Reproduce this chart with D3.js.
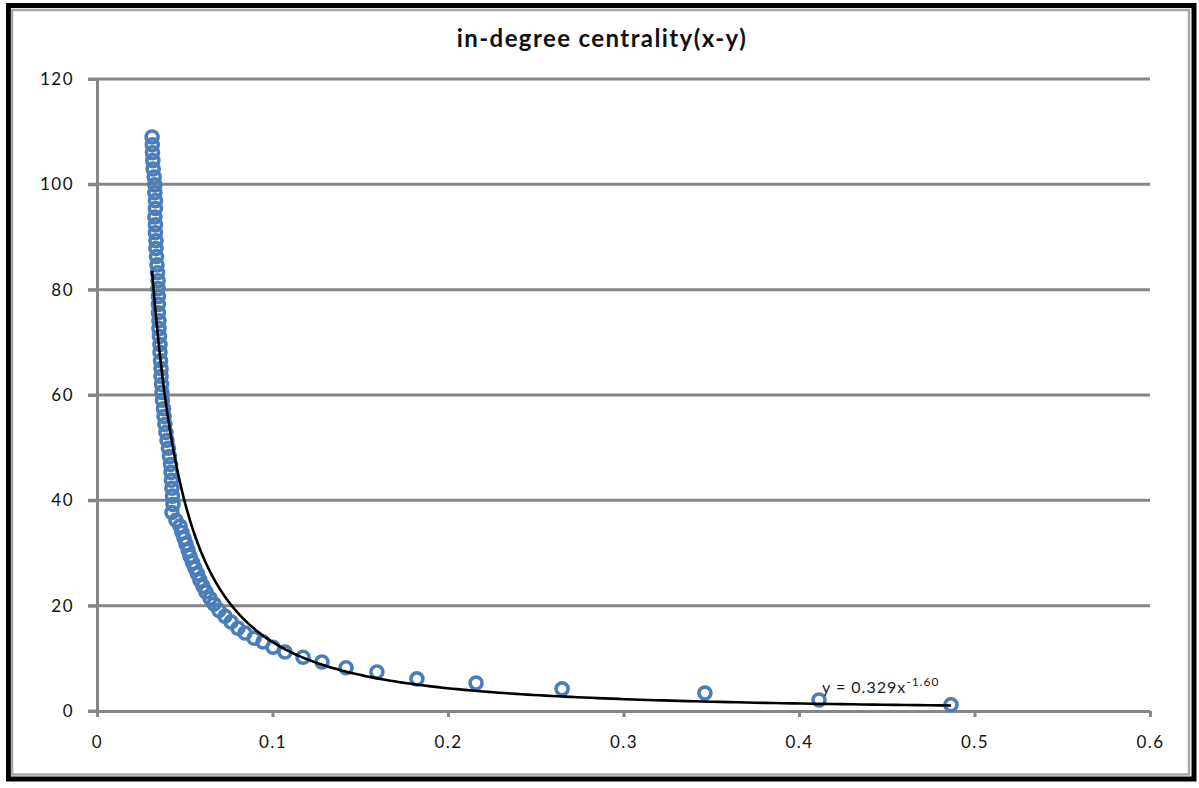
<!DOCTYPE html>
<html lang="en">
    <head>
        <meta charset="utf-8">
        <title>in-degree centrality</title>
        <script src="https://d3js.org/d3.v7.min.js"></script>
        <style type="text/css">
            body { margin: 0; background: #ffffff; }

            .axis path,
            .axis line {
                stroke: #868686;
                stroke-width: 3px;
            }

            .axis text {
                font-family: Lato, "Open Sans", sans-serif;
                font-size: 17px;
                letter-spacing: 1.5px;
                fill: #111111;
            }

            .grid line {
                stroke: #868686;
                stroke-width: 3px;
            }

            .trend {
                fill: none;
                stroke: #000000;
                stroke-width: 2.6px;
            }

            .dot {
                fill: none;
                stroke: #4a7ebb;
                stroke-width: 3.6px;
            }
        </style>
    </head>
    <body>
        <script type="text/javascript">

            // data
            const xValues = [
                0.0314, 0.0315, 0.0316, 0.0318, 0.0320, 0.0326, 0.0330, 0.0330, 0.0333, 0.0333,
                0.0330, 0.0333, 0.0333, 0.0336, 0.0336, 0.0339, 0.0342, 0.0345, 0.0348, 0.0348,
                0.0350, 0.0350, 0.0350, 0.0353, 0.0353, 0.0356, 0.0359, 0.0359, 0.0362, 0.0365,
                0.0365, 0.0368, 0.0370, 0.0373, 0.0379, 0.0382, 0.0387, 0.0393, 0.0399, 0.0407,
                0.0413, 0.0419, 0.0422, 0.0424, 0.0427, 0.0430, 0.0433, 0.0427, 0.0450, 0.0473,
                0.0484, 0.0496, 0.0507, 0.0519, 0.0530, 0.0544, 0.0558, 0.0573, 0.0587, 0.0604,
                0.0621, 0.0644, 0.0667, 0.0695, 0.0729, 0.0764, 0.0803, 0.0843, 0.0895, 0.0946,
                0.1003, 0.1071, 0.1174, 0.1282, 0.1419, 0.1595, 0.1823, 0.2160, 0.2650, 0.3464,
                0.4114, 0.4866
            ];
            const yValues = [
                109.0, 107.5, 106.0, 104.5, 102.9, 101.4, 99.9, 98.4, 96.9, 95.4,
                93.8, 92.3, 90.8, 89.3, 87.8, 86.3, 84.7, 83.2, 81.7, 80.2,
                78.7, 77.2, 75.6, 74.1, 72.6, 71.1, 69.6, 68.1, 66.5, 65.0,
                63.5, 62.0, 60.5, 59.0, 57.4, 55.9, 54.4, 52.9, 51.4, 49.9,
                48.3, 46.8, 45.3, 43.8, 42.3, 40.8, 39.2, 37.7, 36.2, 35.1,
                33.9, 32.8, 31.7, 30.5, 29.4, 28.2, 27.1, 26.0, 24.8, 23.7,
                22.6, 21.4, 20.3, 19.1, 18.0, 16.9, 15.7, 14.8, 13.8, 13.1,
                12.1, 11.2, 10.2, 9.3, 8.2, 7.4, 6.1, 5.3, 4.2, 3.4,
                2.1, 1.2
            ];

            // power trendline shown on the chart: y = 0.329x^-1.60
            const trendA = 0.329;
            const trendB = -1.60;

            const xTicks = [0, 0.1, 0.2, 0.3, 0.4, 0.5, 0.6];
            const yTicks = [0, 20, 40, 60, 80, 100, 120];

            const title = "in-degree centrality(x-y)";

            //Consts
            const w = 1199;
            const h = 788;
            const plotLeft = 97, plotRight = 1150, plotTop = 79, plotBottom = 711;

            const data = xValues.map((x, i) => ({x: x, y: yValues[i]}));

            //scales
            const xScale = d3.scaleLinear()
                             .domain([0, 0.6])
                             .range([plotLeft, plotRight]);

            const yScale = d3.scaleLinear()
                             .domain([0, 120])
                             .range([plotBottom, plotTop]);

            //SVG
            const svg = d3.select("body")
                    .append("svg")
                    .attr("width", w)
                    .attr("height", h);

            //frame
            svg.append("rect")
               .attr("x", 8.5).attr("y", 5.5)
               .attr("width", 1185.5).attr("height", 773.5)
               .attr("fill", "#ffffff")
               .attr("stroke", "#000000")
               .attr("stroke-width", 5);

            svg.append("rect")
               .attr("x", 12).attr("y", 10)
               .attr("width", 1177).attr("height", 764.5)
               .attr("fill", "none")
               .attr("stroke", "#a6a6a6")
               .attr("stroke-width", 2.5);

            //title
            svg.append("text")
               .attr("x", 602)
               .attr("y", 47)
               .attr("text-anchor", "middle")
               .style("font-family", "Lato, 'Open Sans', sans-serif")
               .style("font-weight", "bold")
               .style("font-size", "24px")
               .style("letter-spacing", "1.4px")
               .style("fill", "#111")
               .text(title);

            //horizontal gridlines
            svg.append("g")
               .attr("class", "grid")
               .selectAll("line")
               .data(yTicks.filter(d => d > 0))
               .join("line")
               .attr("x1", plotLeft - 9)
               .attr("x2", plotRight)
               .attr("y1", d => yScale(d))
               .attr("y2", d => yScale(d));

            //left axis
            const leftAxis = d3.axisLeft()
                             .scale(yScale)
                             .tickValues(yTicks)
                             .tickSizeInner(9)
                             .tickSizeOuter(0)
                             .tickPadding(14);

            svg.append("g")
               .attr("class", "axis")
               .attr("transform", "translate(" + plotLeft + ",0)")
               .call(leftAxis);

            //bottom axis
            const bottomAxis = d3.axisBottom()
                                .scale(xScale)
                                .tickValues(xTicks)
                                .tickFormat(d => d3.format("")(d))
                                .tickSizeInner(6)
                                .tickSizeOuter(0)
                                .tickPadding(19);

            svg.append("g")
               .attr("class", "axis")
               .attr("transform", "translate(0," + plotBottom + ")")
               .call(bottomAxis);

            // x axis extends left to meet the y ticks
            svg.append("line")
               .attr("x1", plotLeft - 9).attr("x2", plotLeft)
               .attr("y1", plotBottom).attr("y2", plotBottom)
               .attr("stroke", "#868686")
               .attr("stroke-width", 3);

            //points
            svg.append("g")
               .selectAll("circle")
               .data(data)
               .join("circle")
               .attr("class", "dot")
               .attr("cx", d => xScale(d.x))
               .attr("cy", d => yScale(d.y))
               .attr("r", 6);

            //trendline from the equation, over the range of the data
            const xExt = d3.extent(xValues);
            const trendData = d3.range(0, 201).map(i => {
                const x = xExt[0] * Math.pow(xExt[1] / xExt[0], i / 200);
                return {x: x, y: trendA * Math.pow(x, trendB)};
            });

            const trendLine = d3.line()
                                .x(d => xScale(d.x))
                                .y(d => yScale(d.y));

            svg.append("path")
               .datum(trendData)
               .attr("class", "trend")
               .attr("d", trendLine);

            //equation label
            const eq = svg.append("text")
               .attr("x", 822)
               .attr("y", 693)
               .style("font-family", "Lato, 'Open Sans', sans-serif")
               .style("font-size", "16px")
               .style("letter-spacing", "1px")
               .style("fill", "#1a1a1a");
            eq.append("tspan").text("y = " + trendA + "x");
            eq.append("tspan")
              .attr("dy", -7)
              .style("font-size", "12px")
              .text(trendB.toFixed(2));

        </script>
    </body>
</html>
